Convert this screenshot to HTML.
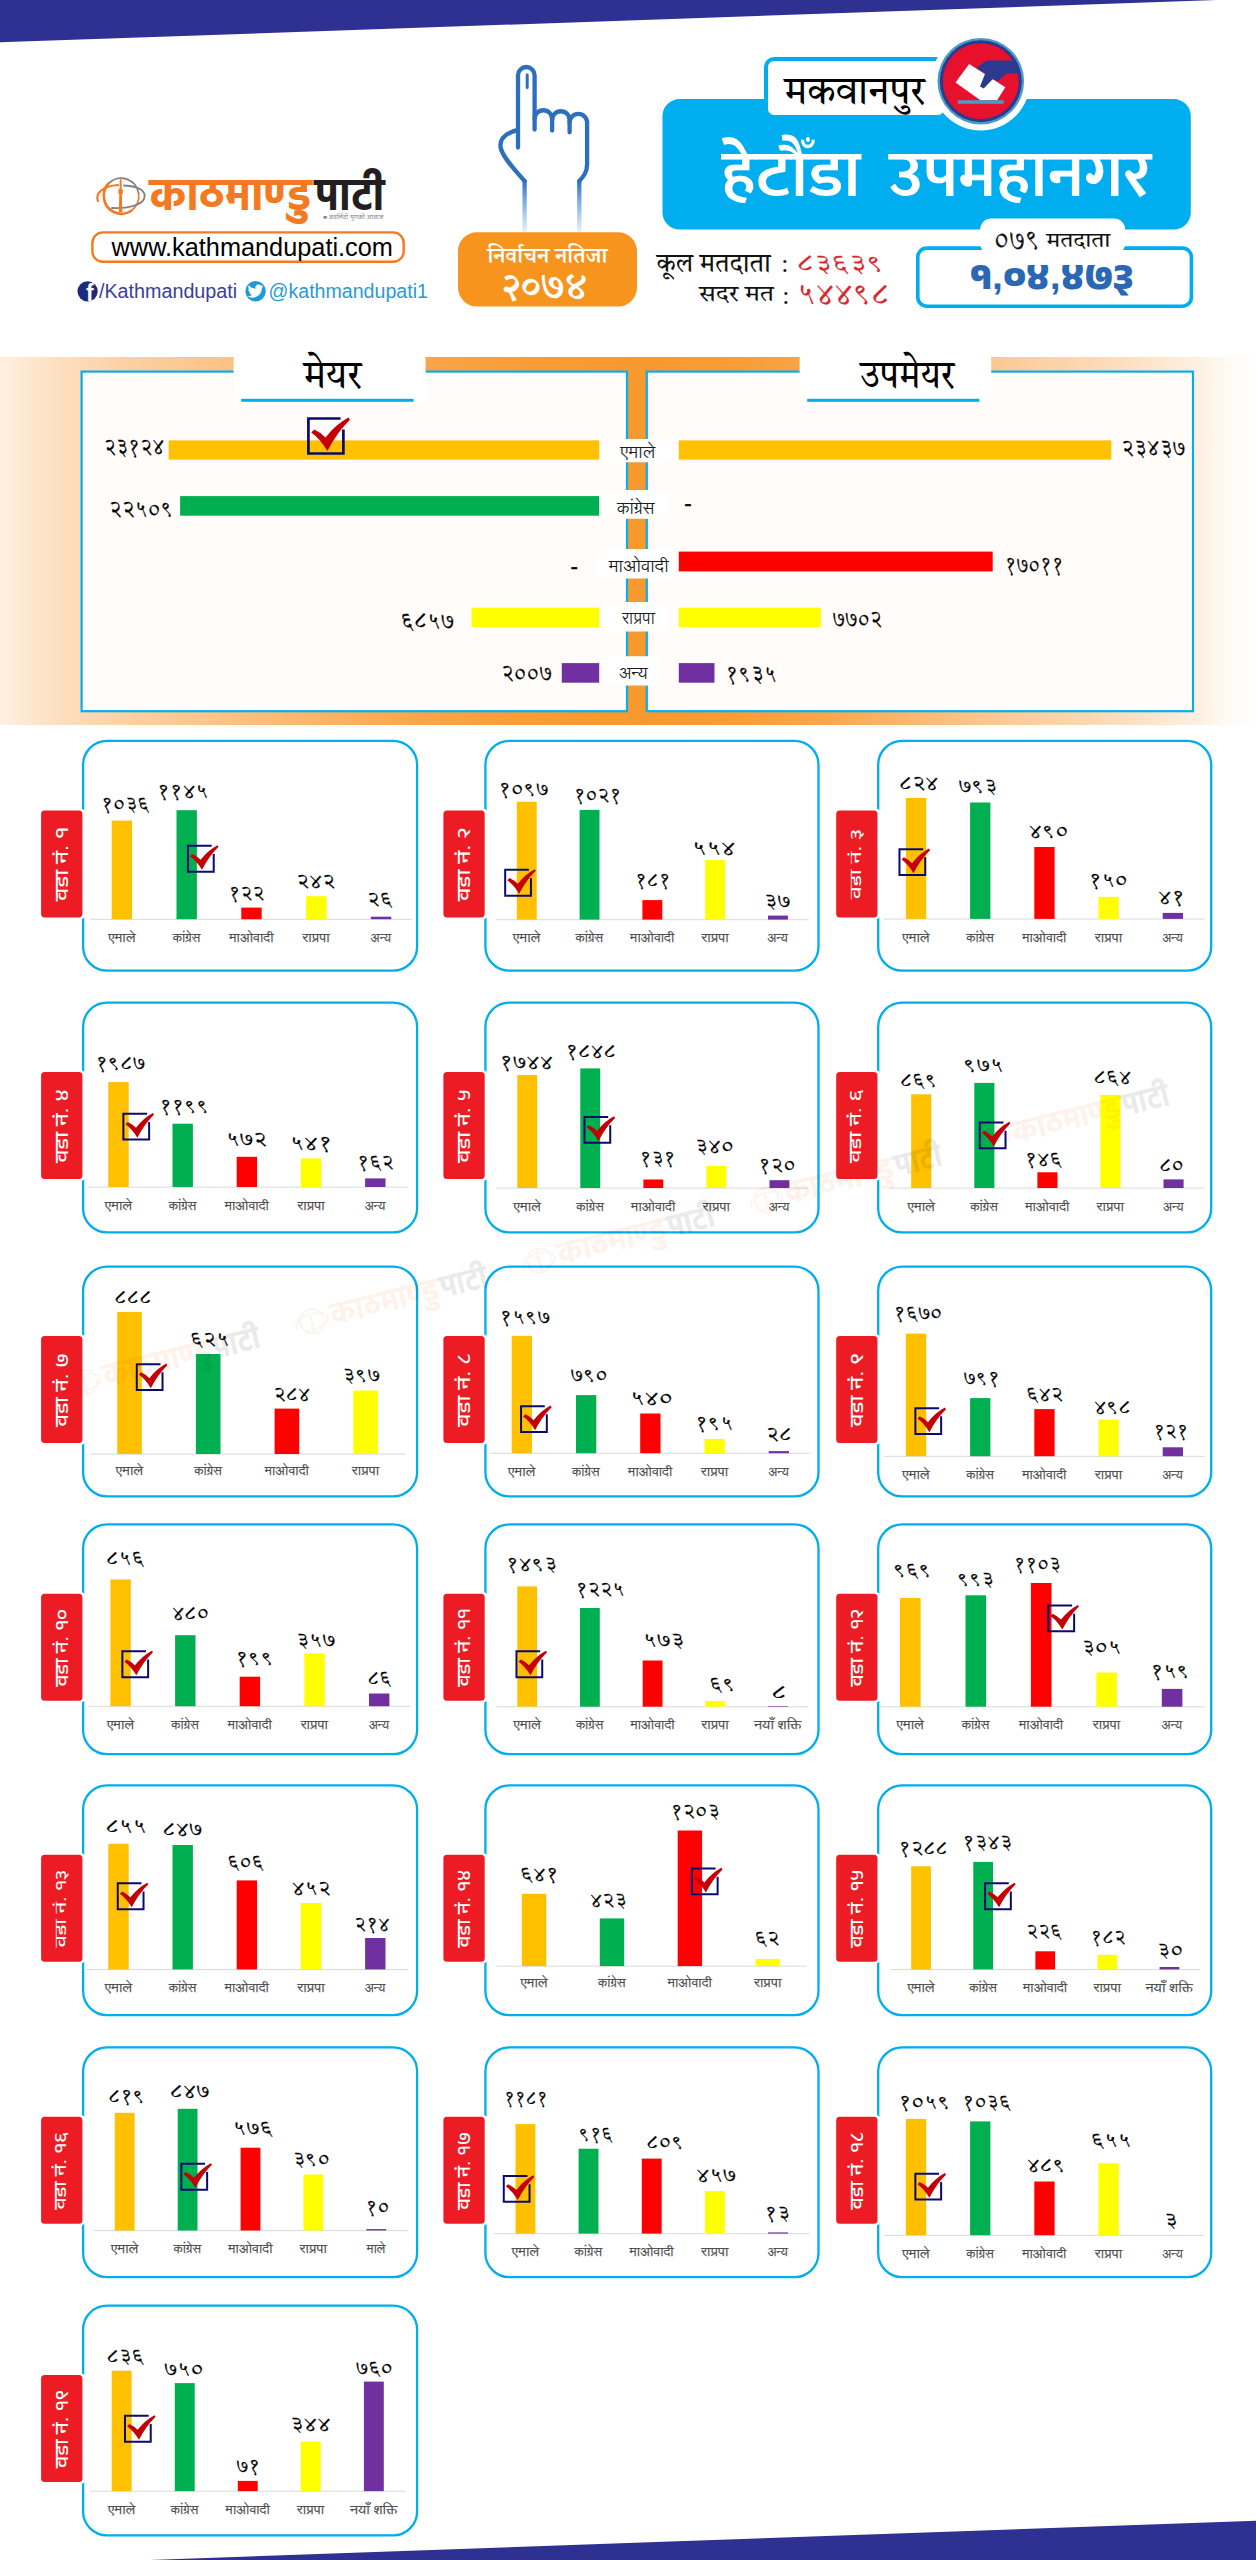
<!DOCTYPE html>
<html lang="ne">
<head>
<meta charset="utf-8">
<title>हेटौंडा उपमहानगर - निर्वाचन नतिजा २०७४</title>
<style>
html,body{margin:0;padding:0;background:#fff}
body{width:1256px;height:2560px;position:relative;overflow:hidden;font-family:"Liberation Sans","Noto Sans Devanagari",sans-serif;color:#000}
svg{position:absolute;display:block;overflow:visible}
.band{position:absolute;left:0;width:1256px;background:#2e3192}
.band.top{top:0;height:43px;clip-path:polygon(0 0,1217px 0,0 42.3px)}
.band.bot{top:2520px;height:40px;clip-path:polygon(150px 40px,1256px 0.7px,1256px 40px)}
.sans{font-family:"Liberation Sans","Noto Sans Devanagari",sans-serif;font-weight:400}
.serif{font-family:"Liberation Serif","Tiro Devanagari Hindi","Noto Serif Devanagari",serif;font-weight:400}
.bold{font-family:"Liberation Serif","Noto Serif Devanagari","Tiro Devanagari Hindi",serif;font-weight:600}
.num{font-family:"Liberation Sans","Annapurna SIL","Martel","Noto Sans Devanagari",sans-serif;font-weight:400}
.cat{font-family:"Liberation Serif","Lohit Devanagari","Noto Serif Devanagari",serif;font-weight:400}
.tabt{font-family:"Liberation Sans","Anek Devanagari","Mukta","Noto Sans Devanagari",sans-serif;font-weight:470}
.disp{font-family:"Liberation Sans","Mukta","Baloo 2","Noto Sans Devanagari",sans-serif;font-weight:600}
.big{font-family:"Liberation Sans","Anek Devanagari","Baloo 2","Noto Sans Devanagari",sans-serif;font-weight:800}
.logo{font-family:"Liberation Sans","Hind","Poppins","Noto Sans Devanagari",sans-serif;font-weight:700}
.tiny{font-family:"Liberation Sans","Mukta","Noto Sans Devanagari",sans-serif;font-weight:400}
.num{stroke-width:.3px}
</style>
</head>
<body>
<svg width="0" height="0" style="left:0;top:0" aria-hidden="true"><defs>
<symbol id="chk" viewBox="0 0 100 100" overflow="visible">
<path d="M89 3.5H3.5V96.5H96.5V33" fill="none" stroke="#0a0a6e" stroke-width="7.2"/>
<path d="M11 41L19 33Q38 42 49 54Q75 20 110 1L114 7Q80 40 54 90Q35 58 11 41Z" fill="#c40006"/>
</symbol>
<g id="kp"><g fill="none" stroke-linecap="round"><path d="M108.5 183.5A17.6 17.6 0 0 1 138.6 193.5" stroke="#808285" stroke-width="1.8"/><path d="M138.6 193.5A17.6 17.6 0 0 1 131 211" stroke="#f47920" stroke-width="1.6"/><path d="M131 211A17.6 17.6 0 0 1 104 198A17.6 17.6 0 0 1 108.5 183.5" stroke="#f47920" stroke-width="2.6"/><path d="M98 201C95 194 102 186 118 185" stroke="#f47920" stroke-width="2.2"/><path d="M124 185.5C140 186 147 192 144 199C141 205 128 209 112 208" stroke="#808285" stroke-width="1.8"/></g><path d="M120.6 176L121.6 181.5V188.5L122.8 190V193.5L121.9 194.5L122.4 212.5H118.8L119.3 194.5L118.4 193.5V190L119.6 188.5V181.5Z" fill="#f47920"/><text x="149.8" y="209.7" class="logo" style="font-size:44.7px;fill:#f47920" textLength="161.9" lengthAdjust="spacingAndGlyphs">काठमाण्डु</text><text x="314.8" y="209.9" class="logo" style="font-size:44.7px;fill:#231f20" textLength="69.6" lengthAdjust="spacingAndGlyphs">पाटी</text></g>
</defs></svg>
<div class="band top"></div>
<header>
<div class="brand"><svg style="left:70px;top:160px" width="370" height="150" viewBox="70 160 370 150"><use href="#kp"/><text x="322.9" y="219.2" class="tiny" style="font-size:5.4px;fill:#8a8c8e" textLength="60.5" lengthAdjust="spacingAndGlyphs">■ बदलिँदो युगको आवाज</text><rect x="92.4" y="232.4" width="311.3" height="29.4" rx="10.5" fill="#fff" stroke="#f47920" stroke-width="2.4"/><text x="111.6" y="255.9" class="sans" lang="en" style="font-size:25.2px;fill:#000" textLength="281.3" lengthAdjust="spacingAndGlyphs">www.kathmandupati.com</text><circle cx="87.6" cy="291.3" r="10.1" fill="#1b2a7b"/><text x="86.1" y="301.4" class="sans" lang="en" style="font-size:23px;fill:#fff;font-weight:700">f</text><text x="98.9" y="298.1" class="sans" lang="en" style="font-size:20px;fill:#3b3e99" textLength="138.3" lengthAdjust="spacingAndGlyphs">/Kathmandupati</text><circle cx="255.6" cy="291.3" r="10.2" fill="#1d9bd8"/><path d="M261.6 287.3c-.5.2-1 .4-1.5.4.5-.3.9-.8 1.1-1.4-.5.3-1.1.5-1.6.6a2.6 2.6 0 0 0-4.500 2.400c-2.200-.100-4.100-1.100-5.400-2.700-.700 1.200-.300 2.700.800 3.500-.4 0-.8-.1-1.200-.3 0 1.300.900 2.400 2.100 2.600-.4.100-.8.100-1.200 0 .300 1.100 1.300 1.800 2.400 1.800a5.300 5.300 0 0 1-3.900 1.100 7.400 7.400 0 0 0 4 1.200c4.900 0 7.700-4.200 7.500-7.900.500-.300.900-.800 1.300-1.300z" fill="#fff" transform="translate(255.6 291.3) scale(1.25) translate(-255.2 -291.4)"/><text x="268.6" y="298.1" class="sans" lang="en" style="font-size:20px;fill:#2a9ad6" textLength="159.3" lengthAdjust="spacingAndGlyphs">@kathmandupati1</text></svg></div>
<div class="badge"><svg style="left:450px;top:55px" width="200" height="260" viewBox="450 55 200 260"><defs><linearGradient id="wr" gradientUnits="userSpaceOnUse" x1="0" y1="180" x2="0" y2="232"><stop offset="0" stop-color="#2d6ebd"/><stop offset="0.1" stop-color="#3f7cc6"/><stop offset="0.4" stop-color="#7eade1"/><stop offset="1" stop-color="#e9f2fb"/></linearGradient></defs><g fill="none" stroke="#2d6ebd" stroke-width="4.3" stroke-linecap="round" stroke-linejoin="round"><path d="M518 147.5V75.3A8.3 8.3 0 0 1 534.6 75.3V129.5"/><path d="M534.6 119A8.75 8.75 0 0 1 552.1 119V130.6"/><path d="M552.1 120A8.75 8.75 0 0 1 569.6 120V132.3"/><path d="M569.6 122.6A8.75 8.75 0 0 1 587.1 122.6V164C587.1 172 584 176 579.3 181"/><path d="M518 129.8C507 132.5 500.4 137.5 500.4 145.5C500.4 153 509 164 524.6 181"/><path d="M527.2 74.8V87.6" stroke-width="3"/></g><path d="M524.6 180V232M579.3 180V232" fill="none" stroke="url(#wr)" stroke-width="4.3"/><rect x="458" y="232.2" width="179" height="74.4" rx="19" fill="#f7941d"/><text x="487.5" y="263.3" class="bold" style="font-size:21.5px;fill:#fff" textLength="119.8" lengthAdjust="spacingAndGlyphs">निर्वाचन नतिजा</text><text x="502.1" y="299" class="bold" lang="hi" style="font-size:37.6px;fill:#fff" textLength="85.3" lengthAdjust="spacingAndGlyphs">२०७४</text></svg></div>
<div class="title"><svg style="left:655px;top:30px" width="545" height="290" viewBox="655 30 545 290"><rect x="662.5" y="99.1" width="528.3" height="130.4" rx="17" fill="#00aeef"/><rect x="766" y="59" width="180" height="58" rx="8" fill="#fff" stroke="#00aeef" stroke-width="4"/><text x="784.3" y="103.9" class="serif" style="font-size:39.8px;fill:#000" textLength="140.7" lengthAdjust="spacingAndGlyphs">मकवानपुर</text><circle cx="980.8" cy="81.2" r="49.3" fill="#fff"/><circle cx="980.8" cy="81.2" r="43.3" fill="#4a9cc4"/><circle cx="980.8" cy="81.2" r="41" fill="#2b3990"/><circle cx="980.8" cy="81.2" r="38" fill="#e8112d"/><path d="M969.2 63.9L1005.3 87.3L997.2 100.2H980.4L955.5 82.5Z" fill="#fff"/><path d="M986.9 60.4H1014.5A38.5 38.5 0 0 1 1018.6 73.5H1006.5L998.3 81L992.6 79.2L983.7 88.6L980 86.4L985.2 73.6L976.4 67.7Z" fill="#2b3990"/><rect x="957.7" y="100.2" width="45.9" height="3.6" fill="#4a9cc4"/><text x="721.7" y="195.8" class="disp" style="font-size:65.5px;fill:#fff" textLength="139.2" lengthAdjust="spacingAndGlyphs">हेटौँडा</text><text x="889.1" y="195.9" class="disp" style="font-size:65.5px;fill:#fff" textLength="262.5" lengthAdjust="spacingAndGlyphs">उपमहानगर</text><text x="656.4" y="271.9" class="serif" style="font-size:26.6px;fill:#111" textLength="114.5" lengthAdjust="spacingAndGlyphs">कूल मतदाता</text><text x="781.2" y="272.1" class="serif" style="font-size:26px;fill:#111">:</text><text x="796.8" y="271.8" class="num" lang="hi" style="font-size:24.8px;fill:#d8262f;stroke:#d8262f" textLength="86.9" lengthAdjust="spacingAndGlyphs">८३६३९</text><text x="699.1" y="301.4" class="serif" style="font-size:22.8px;fill:#111" textLength="74.8" lengthAdjust="spacingAndGlyphs">सदर मत</text><text x="782.2" y="304" class="serif" style="font-size:26px;fill:#111">:</text><text x="797.1" y="305.4" class="num" lang="hi" style="font-size:30.1px;fill:#d8262f;stroke:#d8262f" textLength="92.8" lengthAdjust="spacingAndGlyphs">५४४९८</text><rect x="917.8" y="248.1" width="273.6" height="58.1" rx="9" fill="#fff" stroke="#00aeef" stroke-width="3.6"/><rect x="980.2" y="218.6" width="144.9" height="36" rx="11" fill="#fff"/><text x="993.7" y="250.2" class="num" lang="hi" style="font-size:28.8px;fill:#111;stroke:#111" textLength="46.6" lengthAdjust="spacingAndGlyphs">०७९</text><text x="1046.3" y="246.6" class="serif" style="font-size:21.1px;fill:#111" textLength="64.1" lengthAdjust="spacingAndGlyphs">मतदाता</text><text x="969.7" y="289.1" class="big" style="font-size:37.5px;fill:#2a68b5" textLength="163.8" lengthAdjust="spacingAndGlyphs">१,०४,४७३</text></svg></div>
</header>
<section class="mayor"><div class="glow" style="position:absolute;left:0;top:357px;width:1256px;height:368px;background:linear-gradient(90deg,#fef1e2 0,#fde5cb 3%,#fcdab6 6.4%,#fbcf9f 11%,#fbc68d 16%,#fab76e 24%,#f9a84e 32%,#f99e3a 40%,#f89a30 47%,#f8992e 52%,#f89c35 58%,#f9a74d 66%,#fabb78 74%,#fccfa0 82%,#fcdab6 87.6%,#fde5cb 91.6%,#feefdf 95%,#fffaf5 97.8%,#fff 100%)"></div><svg style="left:0px;top:345px" width="1256" height="390" viewBox="0 345 1256 390"><rect x="81.6" y="371.6" width="545.4" height="339.6" fill="#fffcfa" stroke="#08adee" stroke-width="2.2"/><rect x="646.8" y="371.6" width="546.2" height="339.6" fill="#fffcfa" stroke="#08adee" stroke-width="2.2"/><rect x="233.6" y="355" width="192" height="51" rx="4" fill="#fff"/><rect x="241.2" y="398.8" width="172.4" height="3" fill="#00aeef"/><text x="303.4" y="387.6" class="serif" style="font-size:39.9px;fill:#000" textLength="58.2" lengthAdjust="spacingAndGlyphs">मेयर</text><rect x="799.6" y="355" width="191.6" height="51" rx="4" fill="#fff"/><rect x="807.2" y="398.8" width="172.2" height="3" fill="#00aeef"/><text x="859.9" y="387.6" class="serif" style="font-size:39.9px;fill:#000" textLength="94.6" lengthAdjust="spacingAndGlyphs">उपमेयर</text><rect x="168.7" y="440.4" width="430.5" height="19.2" fill="#ffc000"/><text x="103.9" y="454.5" class="num" lang="hi" style="font-size:22.5px;stroke:#000" textLength="60.4" lengthAdjust="spacingAndGlyphs">२३१२४</text><rect x="678.8" y="440.4" width="432.5" height="19.2" fill="#ffc000"/><text x="1121.2" y="456.4" class="num" lang="hi" style="font-size:22.5px;stroke:#000" textLength="64.1" lengthAdjust="spacingAndGlyphs">२३४३७</text><rect x="604" y="438.9" width="68.1" height="23.4" rx="1.5" fill="#fff"/><text x="620.2" y="458.3" class="cat" style="font-size:17px;fill:#1a1a1a" textLength="35.1" lengthAdjust="spacingAndGlyphs">एमाले</text><rect x="180.1" y="496.1" width="419.1" height="19.6" fill="#00b050"/><text x="109.1" y="517.4" class="num" lang="hi" style="font-size:22.5px;stroke:#000" textLength="64.3" lengthAdjust="spacingAndGlyphs">२२५०९</text><text x="684.3" y="511.1" class="num" style="font-size:22.5px;stroke:#000">-</text><rect x="602.7" y="490" width="66.9" height="28.7" rx="1.5" fill="#fff"/><text x="617" y="514.2" class="cat" style="font-size:17px;fill:#1a1a1a" textLength="37.6" lengthAdjust="spacingAndGlyphs">कांग्रेस</text><text x="570.6" y="573.8" class="num" style="font-size:22.5px;stroke:#000">-</text><rect x="678.8" y="551.6" width="313.9" height="19.8" fill="#ff0000"/><text x="1004.7" y="573" class="num" lang="hi" style="font-size:22.5px;stroke:#000" textLength="58.9" lengthAdjust="spacingAndGlyphs">१७०११</text><rect x="598.2" y="549" width="76.4" height="29.6" rx="1.5" fill="#fff"/><text x="608.7" y="572.4" class="cat" style="font-size:17px;fill:#1a1a1a" textLength="60" lengthAdjust="spacingAndGlyphs">माओवादी</text><rect x="471.5" y="607.6" width="127.7" height="19.4" fill="#ffff00"/><text x="400.6" y="628.9" class="num" lang="hi" style="font-size:22.5px;stroke:#000" textLength="53.5" lengthAdjust="spacingAndGlyphs">६८५७</text><rect x="678.8" y="607.6" width="142.1" height="19.4" fill="#ffff00"/><text x="832.6" y="627.3" class="num" lang="hi" style="font-size:22.5px;stroke:#000" textLength="49.7" lengthAdjust="spacingAndGlyphs">७७०२</text><rect x="605.2" y="602" width="62.4" height="29.5" rx="1.5" fill="#fff"/><text x="622.3" y="624.4" class="cat" style="font-size:17px;fill:#1a1a1a" textLength="32.5" lengthAdjust="spacingAndGlyphs">राप्रपा</text><rect x="561.8" y="663.1" width="37.4" height="19.6" fill="#7030a0"/><text x="501.2" y="681.2" class="num" lang="hi" style="font-size:22.5px;stroke:#000" textLength="50.7" lengthAdjust="spacingAndGlyphs">२००७</text><rect x="678.8" y="663.1" width="35.7" height="19.6" fill="#7030a0"/><text x="725.5" y="681.9" class="num" lang="hi" style="font-size:22.5px;stroke:#000" textLength="51.2" lengthAdjust="spacingAndGlyphs">१९३५</text><rect x="608.2" y="656.3" width="52.4" height="29.3" rx="1.5" fill="#fff"/><text x="618.9" y="678.7" class="cat" style="font-size:17px;fill:#1a1a1a" textLength="28.9" lengthAdjust="spacingAndGlyphs">अन्य</text><use href="#chk" x="307.1" y="417.2" width="37.6" height="37.6"/></svg></section>
<main class="wards">
<section class="card" id="ward1"><svg style="left:39px;top:738px" width="382" height="236" viewBox="39 738 382 236"><rect x="83.1" y="740.9" width="334" height="229.8" rx="24" fill="#fff" stroke="#00aeef" stroke-width="2.3"/><rect x="39.9" y="808.8" width="45.5" height="110.2" rx="4.5" fill="#fff"/><rect x="41.1" y="810.4" width="41.3" height="107" rx="3.6" fill="#ed1c24"/><g transform="translate(67.7 865.1) rotate(-90)"><text x="-35.9" y="-0" class="tabt" style="font-size:18.7px;fill:#fff" textLength="74" lengthAdjust="spacingAndGlyphs">वडा नं. १</text></g><rect x="89.7" y="918.8" width="322.9" height="1" fill="#d9d9d9"/><rect x="111.7" y="820.6" width="20.4" height="98.6" fill="#ffc000"/><text x="101" y="810.9" class="num" lang="hi" style="font-size:20.7px;stroke:#000" textLength="48.5" lengthAdjust="spacingAndGlyphs">१०३६</text><text x="108.2" y="941.8" class="cat" style="font-size:12.6px;fill:#4a4a4a;stroke:#4a4a4a;stroke-width:.25px" textLength="27.4" lengthAdjust="spacingAndGlyphs">एमाले</text><rect x="176.5" y="810.2" width="20.4" height="109" fill="#00b050"/><text x="157" y="798.3" class="num" lang="hi" style="font-size:20.7px;stroke:#000" textLength="51.3" lengthAdjust="spacingAndGlyphs">११४५</text><text x="172.7" y="941.8" class="cat" style="font-size:12.6px;fill:#4a4a4a;stroke:#4a4a4a;stroke-width:.25px" textLength="27.7" lengthAdjust="spacingAndGlyphs">कांग्रेस</text><rect x="241.3" y="907.6" width="20.4" height="11.6" fill="#ff0000"/><text x="228.5" y="899.5" class="num" lang="hi" style="font-size:20.7px;stroke:#000" textLength="35.9" lengthAdjust="spacingAndGlyphs">१२२</text><text x="229.3" y="941.8" class="cat" style="font-size:12.6px;fill:#4a4a4a;stroke:#4a4a4a;stroke-width:.25px" textLength="44.2" lengthAdjust="spacingAndGlyphs">माओवादी</text><rect x="306.1" y="896.2" width="20.4" height="23" fill="#ffff00"/><text x="296.3" y="887.7" class="num" lang="hi" style="font-size:20.7px;stroke:#000" textLength="39.1" lengthAdjust="spacingAndGlyphs">२४२</text><text x="302.6" y="941.8" class="cat" style="font-size:12.6px;fill:#4a4a4a;stroke:#4a4a4a;stroke-width:.25px" textLength="27.2" lengthAdjust="spacingAndGlyphs">राप्रपा</text><rect x="370.9" y="916.7" width="20.4" height="2.5" fill="#7030a0"/><text x="366.9" y="906.4" class="num" lang="hi" style="font-size:20.7px;stroke:#000" textLength="25.6" lengthAdjust="spacingAndGlyphs">२६</text><text x="370.8" y="941.8" class="cat" style="font-size:12.6px;fill:#4a4a4a;stroke:#4a4a4a;stroke-width:.25px" textLength="20.3" lengthAdjust="spacingAndGlyphs">अन्य</text><use href="#chk" x="187" y="844.9" width="27.7" height="27.7"/></svg></section>
<section class="card" id="ward2"><svg style="left:441px;top:738px" width="381" height="236" viewBox="441 738 381 236"><rect x="485.4" y="740.9" width="333.1" height="229.8" rx="24" fill="#fff" stroke="#00aeef" stroke-width="2.3"/><rect x="442.2" y="808.8" width="45.5" height="110.2" rx="4.5" fill="#fff"/><rect x="443.4" y="810.4" width="41.3" height="107" rx="3.6" fill="#ed1c24"/><g transform="translate(470 865.1) rotate(-90)"><text x="-35.9" y="-0" class="tabt" style="font-size:18.7px;fill:#fff" textLength="73.4" lengthAdjust="spacingAndGlyphs">वडा नं. २</text></g><rect x="496.3" y="919.2" width="312.4" height="1" fill="#d9d9d9"/><rect x="516.8" y="801.7" width="19.9" height="117.9" fill="#ffc000"/><text x="498.4" y="796.1" class="num" lang="hi" style="font-size:20.7px;stroke:#000" textLength="50" lengthAdjust="spacingAndGlyphs">१०९७</text><text x="513" y="942.2" class="cat" style="font-size:12.6px;fill:#4a4a4a;stroke:#4a4a4a;stroke-width:.25px" textLength="27.4" lengthAdjust="spacingAndGlyphs">एमाले</text><rect x="579.6" y="809.9" width="19.9" height="109.7" fill="#00b050"/><text x="573.7" y="801.7" class="num" lang="hi" style="font-size:20.7px;stroke:#000" textLength="47.7" lengthAdjust="spacingAndGlyphs">१०२१</text><text x="575.5" y="942.2" class="cat" style="font-size:12.6px;fill:#4a4a4a;stroke:#4a4a4a;stroke-width:.25px" textLength="27.7" lengthAdjust="spacingAndGlyphs">कांग्रेस</text><rect x="642.4" y="900.1" width="19.9" height="19.5" fill="#ff0000"/><text x="634.9" y="886.8" class="num" lang="hi" style="font-size:20.7px;stroke:#000" textLength="35.7" lengthAdjust="spacingAndGlyphs">१८१</text><text x="630.1" y="942.2" class="cat" style="font-size:12.6px;fill:#4a4a4a;stroke:#4a4a4a;stroke-width:.25px" textLength="44.2" lengthAdjust="spacingAndGlyphs">माओवादी</text><rect x="705.2" y="860.1" width="19.9" height="59.5" fill="#ffff00"/><text x="691.9" y="854.8" class="num" lang="hi" style="font-size:20.7px;stroke:#000" textLength="43.6" lengthAdjust="spacingAndGlyphs">५५४</text><text x="701.5" y="942.2" class="cat" style="font-size:12.6px;fill:#4a4a4a;stroke:#4a4a4a;stroke-width:.25px" textLength="27.2" lengthAdjust="spacingAndGlyphs">राप्रपा</text><rect x="768" y="915.6" width="19.9" height="4" fill="#7030a0"/><text x="763.9" y="908.3" class="num" lang="hi" style="font-size:20.7px;stroke:#000" textLength="26.5" lengthAdjust="spacingAndGlyphs">३७</text><text x="767.6" y="942.2" class="cat" style="font-size:12.6px;fill:#4a4a4a;stroke:#4a4a4a;stroke-width:.25px" textLength="20.3" lengthAdjust="spacingAndGlyphs">अन्य</text><use href="#chk" x="504.2" y="868.9" width="27.7" height="27.7"/></svg></section>
<section class="card" id="ward3"><svg style="left:834px;top:738px" width="381" height="236" viewBox="834 738 381 236"><rect x="878.2" y="740.9" width="333" height="229.8" rx="24" fill="#fff" stroke="#00aeef" stroke-width="2.3"/><rect x="835" y="808.8" width="45.5" height="110.2" rx="4.5" fill="#fff"/><rect x="836.2" y="810.4" width="41.3" height="107" rx="3.6" fill="#ed1c24"/><g transform="translate(862.8 865.1) rotate(-90)"><text x="-34.2" y="-2" class="tabt" style="font-size:16.2px;fill:#fff" textLength="70.1" lengthAdjust="spacingAndGlyphs">वडा नं. ३</text></g><rect x="884.1" y="918.5" width="320.6" height="1" fill="#d9d9d9"/><rect x="905.9" y="798" width="20.3" height="120.9" fill="#ffc000"/><text x="899" y="790.2" class="num" lang="hi" style="font-size:20.7px;stroke:#000" textLength="39.5" lengthAdjust="spacingAndGlyphs">८२४</text><text x="902.3" y="941.5" class="cat" style="font-size:12.6px;fill:#4a4a4a;stroke:#4a4a4a;stroke-width:.25px" textLength="27.4" lengthAdjust="spacingAndGlyphs">एमाले</text><rect x="970.1" y="802.5" width="20.3" height="116.4" fill="#00b050"/><text x="958.4" y="793.2" class="num" lang="hi" style="font-size:20.7px;stroke:#000" textLength="38.7" lengthAdjust="spacingAndGlyphs">७९३</text><text x="966.2" y="941.5" class="cat" style="font-size:12.6px;fill:#4a4a4a;stroke:#4a4a4a;stroke-width:.25px" textLength="27.7" lengthAdjust="spacingAndGlyphs">कांग्रेस</text><rect x="1034.3" y="847" width="20.3" height="71.9" fill="#ff0000"/><text x="1028.8" y="837.8" class="num" lang="hi" style="font-size:20.7px;stroke:#000" textLength="39.6" lengthAdjust="spacingAndGlyphs">४९०</text><text x="1022.2" y="941.5" class="cat" style="font-size:12.6px;fill:#4a4a4a;stroke:#4a4a4a;stroke-width:.25px" textLength="44.2" lengthAdjust="spacingAndGlyphs">माओवादी</text><rect x="1098.5" y="896.9" width="20.3" height="22" fill="#ffff00"/><text x="1088.7" y="887.3" class="num" lang="hi" style="font-size:20.7px;stroke:#000" textLength="39" lengthAdjust="spacingAndGlyphs">१५०</text><text x="1095" y="941.5" class="cat" style="font-size:12.6px;fill:#4a4a4a;stroke:#4a4a4a;stroke-width:.25px" textLength="27.2" lengthAdjust="spacingAndGlyphs">राप्रपा</text><rect x="1162.7" y="912.9" width="20.3" height="6" fill="#7030a0"/><text x="1158.1" y="904.4" class="num" lang="hi" style="font-size:20.7px;stroke:#000" textLength="26.8" lengthAdjust="spacingAndGlyphs">४१</text><text x="1162.5" y="941.5" class="cat" style="font-size:12.6px;fill:#4a4a4a;stroke:#4a4a4a;stroke-width:.25px" textLength="20.3" lengthAdjust="spacingAndGlyphs">अन्य</text><use href="#chk" x="898.5" y="848.2" width="27.7" height="27.7"/></svg></section>
<section class="card" id="ward4"><svg style="left:39px;top:1000px" width="382" height="235" viewBox="39 1000 382 235"><rect x="83.1" y="1002.6" width="334" height="229.8" rx="24" fill="#fff" stroke="#00aeef" stroke-width="2.3"/><rect x="39.9" y="1070.5" width="45.5" height="110.2" rx="4.5" fill="#fff"/><rect x="41.1" y="1072.1" width="41.3" height="107" rx="3.6" fill="#ed1c24"/><g transform="translate(67.7 1126.8) rotate(-90)"><text x="-35.9" y="-0" class="tabt" style="font-size:18.7px;fill:#fff" textLength="73.6" lengthAdjust="spacingAndGlyphs">वडा नं. ४</text></g><rect x="87" y="1186.6" width="320.7" height="1" fill="#d9d9d9"/><rect x="108.3" y="1082.1" width="20.4" height="104.9" fill="#ffc000"/><text x="95.4" y="1069.8" class="num" lang="hi" style="font-size:20.7px;stroke:#000" textLength="49.8" lengthAdjust="spacingAndGlyphs">१९८७</text><text x="104.8" y="1209.6" class="cat" style="font-size:12.6px;fill:#4a4a4a;stroke:#4a4a4a;stroke-width:.25px" textLength="27.4" lengthAdjust="spacingAndGlyphs">एमाले</text><rect x="172.5" y="1123.7" width="20.4" height="63.3" fill="#00b050"/><text x="159.6" y="1113.3" class="num" lang="hi" style="font-size:20.7px;stroke:#000" textLength="49.1" lengthAdjust="spacingAndGlyphs">११९९</text><text x="168.7" y="1209.6" class="cat" style="font-size:12.6px;fill:#4a4a4a;stroke:#4a4a4a;stroke-width:.25px" textLength="27.7" lengthAdjust="spacingAndGlyphs">कांग्रेस</text><rect x="236.7" y="1156.8" width="20.4" height="30.2" fill="#ff0000"/><text x="225.9" y="1146.4" class="num" lang="hi" style="font-size:20.7px;stroke:#000" textLength="41.2" lengthAdjust="spacingAndGlyphs">५७२</text><text x="224.7" y="1209.6" class="cat" style="font-size:12.6px;fill:#4a4a4a;stroke:#4a4a4a;stroke-width:.25px" textLength="44.2" lengthAdjust="spacingAndGlyphs">माओवादी</text><rect x="300.9" y="1158.4" width="20.4" height="28.6" fill="#ffff00"/><text x="290" y="1150.1" class="num" lang="hi" style="font-size:20.7px;stroke:#000" textLength="42.2" lengthAdjust="spacingAndGlyphs">५४१</text><text x="297.5" y="1209.6" class="cat" style="font-size:12.6px;fill:#4a4a4a;stroke:#4a4a4a;stroke-width:.25px" textLength="27.2" lengthAdjust="spacingAndGlyphs">राप्रपा</text><rect x="365.1" y="1178.4" width="20.4" height="8.6" fill="#7030a0"/><text x="357.1" y="1168.8" class="num" lang="hi" style="font-size:20.7px;stroke:#000" textLength="36.8" lengthAdjust="spacingAndGlyphs">१६२</text><text x="365" y="1209.6" class="cat" style="font-size:12.6px;fill:#4a4a4a;stroke:#4a4a4a;stroke-width:.25px" textLength="20.3" lengthAdjust="spacingAndGlyphs">अन्य</text><use href="#chk" x="122.4" y="1112.8" width="27.7" height="27.7"/></svg></section>
<section class="card" id="ward5"><svg style="left:441px;top:1000px" width="381" height="235" viewBox="441 1000 381 235"><rect x="485.4" y="1002.6" width="333.1" height="229.8" rx="24" fill="#fff" stroke="#00aeef" stroke-width="2.3"/><rect x="442.2" y="1070.5" width="45.5" height="110.2" rx="4.5" fill="#fff"/><rect x="443.4" y="1072.1" width="41.3" height="107" rx="3.6" fill="#ed1c24"/><g transform="translate(470 1126.8) rotate(-90)"><text x="-35.9" y="-0" class="tabt" style="font-size:18.7px;fill:#fff" textLength="73.6" lengthAdjust="spacingAndGlyphs">वडा नं. ५</text></g><rect x="496.3" y="1187.6" width="312.4" height="1" fill="#d9d9d9"/><rect x="517.3" y="1075.1" width="19.9" height="112.9" fill="#ffc000"/><text x="499.4" y="1068.6" class="num" lang="hi" style="font-size:20.7px;stroke:#000" textLength="53.7" lengthAdjust="spacingAndGlyphs">१७४४</text><text x="513.5" y="1210.6" class="cat" style="font-size:12.6px;fill:#4a4a4a;stroke:#4a4a4a;stroke-width:.25px" textLength="27.4" lengthAdjust="spacingAndGlyphs">एमाले</text><rect x="580.3" y="1068.4" width="19.9" height="119.6" fill="#00b050"/><text x="565.4" y="1058.1" class="num" lang="hi" style="font-size:20.7px;stroke:#000" textLength="50.8" lengthAdjust="spacingAndGlyphs">१८४८</text><text x="576.3" y="1210.6" class="cat" style="font-size:12.6px;fill:#4a4a4a;stroke:#4a4a4a;stroke-width:.25px" textLength="27.7" lengthAdjust="spacingAndGlyphs">कांग्रेस</text><rect x="643.4" y="1179.5" width="19.9" height="8.5" fill="#ff0000"/><text x="639.4" y="1165.4" class="num" lang="hi" style="font-size:20.7px;stroke:#000" textLength="36.3" lengthAdjust="spacingAndGlyphs">१३१</text><text x="631.1" y="1210.6" class="cat" style="font-size:12.6px;fill:#4a4a4a;stroke:#4a4a4a;stroke-width:.25px" textLength="44.2" lengthAdjust="spacingAndGlyphs">माओवादी</text><rect x="706.4" y="1166" width="19.9" height="22" fill="#ffff00"/><text x="695.1" y="1153.2" class="num" lang="hi" style="font-size:20.7px;stroke:#000" textLength="38.8" lengthAdjust="spacingAndGlyphs">३४०</text><text x="702.8" y="1210.6" class="cat" style="font-size:12.6px;fill:#4a4a4a;stroke:#4a4a4a;stroke-width:.25px" textLength="27.2" lengthAdjust="spacingAndGlyphs">राप्रपा</text><rect x="769.5" y="1180.2" width="19.9" height="7.8" fill="#7030a0"/><text x="758.3" y="1172.3" class="num" lang="hi" style="font-size:20.7px;stroke:#000" textLength="37.3" lengthAdjust="spacingAndGlyphs">१२०</text><text x="769.1" y="1210.6" class="cat" style="font-size:12.6px;fill:#4a4a4a;stroke:#4a4a4a;stroke-width:.25px" textLength="20.3" lengthAdjust="spacingAndGlyphs">अन्य</text><use href="#chk" x="583.5" y="1116" width="27.7" height="27.7"/></svg></section>
<section class="card" id="ward6"><svg style="left:834px;top:1000px" width="381" height="235" viewBox="834 1000 381 235"><rect x="878.2" y="1002.6" width="333" height="229.8" rx="24" fill="#fff" stroke="#00aeef" stroke-width="2.3"/><rect x="835" y="1070.5" width="45.5" height="110.2" rx="4.5" fill="#fff"/><rect x="836.2" y="1072.1" width="41.3" height="107" rx="3.6" fill="#ed1c24"/><g transform="translate(862.8 1126.8) rotate(-90)"><text x="-35.9" y="-1.7" class="tabt" style="font-size:16.8px;fill:#fff" textLength="73" lengthAdjust="spacingAndGlyphs">वडा नं. ६</text></g><rect x="889.7" y="1187.6" width="315" height="1" fill="#d9d9d9"/><rect x="911.2" y="1094.3" width="20.1" height="93.7" fill="#ffc000"/><text x="899.9" y="1086.7" class="num" lang="hi" style="font-size:20.7px;stroke:#000" textLength="37.3" lengthAdjust="spacingAndGlyphs">८६९</text><text x="907.5" y="1210.6" class="cat" style="font-size:12.6px;fill:#4a4a4a;stroke:#4a4a4a;stroke-width:.25px" textLength="27.4" lengthAdjust="spacingAndGlyphs">एमाले</text><rect x="974.3" y="1082.9" width="20.1" height="105.1" fill="#00b050"/><text x="963.1" y="1072.1" class="num" lang="hi" style="font-size:20.7px;stroke:#000" textLength="40.3" lengthAdjust="spacingAndGlyphs">९७५</text><text x="970.3" y="1210.6" class="cat" style="font-size:12.6px;fill:#4a4a4a;stroke:#4a4a4a;stroke-width:.25px" textLength="27.7" lengthAdjust="spacingAndGlyphs">कांग्रेस</text><rect x="1037.4" y="1172.3" width="20.1" height="15.7" fill="#ff0000"/><text x="1024.7" y="1165.8" class="num" lang="hi" style="font-size:20.7px;stroke:#000" textLength="37.2" lengthAdjust="spacingAndGlyphs">१४६</text><text x="1025.2" y="1210.6" class="cat" style="font-size:12.6px;fill:#4a4a4a;stroke:#4a4a4a;stroke-width:.25px" textLength="44.2" lengthAdjust="spacingAndGlyphs">माओवादी</text><rect x="1100.4" y="1094.9" width="20.1" height="93.1" fill="#ffff00"/><text x="1093.5" y="1084.2" class="num" lang="hi" style="font-size:20.7px;stroke:#000" textLength="37.8" lengthAdjust="spacingAndGlyphs">८६४</text><text x="1096.8" y="1210.6" class="cat" style="font-size:12.6px;fill:#4a4a4a;stroke:#4a4a4a;stroke-width:.25px" textLength="27.2" lengthAdjust="spacingAndGlyphs">राप्रपा</text><rect x="1163.5" y="1179.4" width="20.1" height="8.6" fill="#7030a0"/><text x="1159.2" y="1172.2" class="num" lang="hi" style="font-size:20.7px;stroke:#000" textLength="24.5" lengthAdjust="spacingAndGlyphs">८०</text><text x="1163.3" y="1210.6" class="cat" style="font-size:12.6px;fill:#4a4a4a;stroke:#4a4a4a;stroke-width:.25px" textLength="20.3" lengthAdjust="spacingAndGlyphs">अन्य</text><use href="#chk" x="978.8" y="1121.5" width="27.7" height="27.7"/></svg></section>
<section class="card" id="ward7"><svg style="left:39px;top:1264px" width="382" height="235" viewBox="39 1264 382 235"><rect x="83.1" y="1266.6" width="334" height="229.8" rx="24" fill="#fff" stroke="#00aeef" stroke-width="2.3"/><rect x="39.9" y="1334.5" width="45.5" height="110.2" rx="4.5" fill="#fff"/><rect x="41.1" y="1336.1" width="41.3" height="107" rx="3.6" fill="#ed1c24"/><g transform="translate(67.7 1390.8) rotate(-90)"><text x="-35.9" y="-0" class="tabt" style="font-size:18.7px;fill:#fff" textLength="73.6" lengthAdjust="spacingAndGlyphs">वडा नं. ७</text></g><rect x="90.4" y="1453.6" width="315" height="1" fill="#d9d9d9"/><rect x="117.2" y="1311.9" width="24.6" height="142.1" fill="#ffc000"/><text x="114.3" y="1304.3" class="num" lang="hi" style="font-size:20.7px;stroke:#000" textLength="37.6" lengthAdjust="spacingAndGlyphs">८८८</text><text x="115.8" y="1475.3" class="cat" style="font-size:12.6px;fill:#4a4a4a;stroke:#4a4a4a;stroke-width:.25px" textLength="27.4" lengthAdjust="spacingAndGlyphs">एमाले</text><rect x="195.9" y="1354" width="24.6" height="100" fill="#00b050"/><text x="190.1" y="1345.7" class="num" lang="hi" style="font-size:20.7px;stroke:#000" textLength="39.1" lengthAdjust="spacingAndGlyphs">६२५</text><text x="194.2" y="1475.3" class="cat" style="font-size:12.6px;fill:#4a4a4a;stroke:#4a4a4a;stroke-width:.25px" textLength="27.7" lengthAdjust="spacingAndGlyphs">कांग्रेस</text><rect x="274.6" y="1408.6" width="24.6" height="45.4" fill="#ff0000"/><text x="273.5" y="1401" class="num" lang="hi" style="font-size:20.7px;stroke:#000" textLength="36.8" lengthAdjust="spacingAndGlyphs">२८४</text><text x="264.7" y="1475.3" class="cat" style="font-size:12.6px;fill:#4a4a4a;stroke:#4a4a4a;stroke-width:.25px" textLength="44.2" lengthAdjust="spacingAndGlyphs">माओवादी</text><rect x="353.3" y="1390.5" width="24.6" height="63.5" fill="#ffff00"/><text x="342.4" y="1381.8" class="num" lang="hi" style="font-size:20.7px;stroke:#000" textLength="37.7" lengthAdjust="spacingAndGlyphs">३९७</text><text x="352" y="1475.3" class="cat" style="font-size:12.6px;fill:#4a4a4a;stroke:#4a4a4a;stroke-width:.25px" textLength="27.2" lengthAdjust="spacingAndGlyphs">राप्रपा</text><use href="#chk" x="135.8" y="1363.2" width="27.7" height="27.7"/></svg></section>
<section class="card" id="ward8"><svg style="left:441px;top:1264px" width="381" height="235" viewBox="441 1264 381 235"><rect x="485.4" y="1266.6" width="333.1" height="229.8" rx="24" fill="#fff" stroke="#00aeef" stroke-width="2.3"/><rect x="442.2" y="1334.5" width="45.5" height="110.2" rx="4.5" fill="#fff"/><rect x="443.4" y="1336.1" width="41.3" height="107" rx="3.6" fill="#ed1c24"/><g transform="translate(470 1390.8) rotate(-90)"><text x="-35.9" y="-0" class="tabt" style="font-size:18.7px;fill:#fff" textLength="73" lengthAdjust="spacingAndGlyphs">वडा नं. ८</text></g><rect x="489.7" y="1452.8" width="320.6" height="1" fill="#d9d9d9"/><rect x="511.7" y="1335.8" width="20.3" height="117.4" fill="#ffc000"/><text x="499.6" y="1324" class="num" lang="hi" style="font-size:20.7px;stroke:#000" textLength="50.7" lengthAdjust="spacingAndGlyphs">१५९७</text><text x="508.1" y="1475.8" class="cat" style="font-size:12.6px;fill:#4a4a4a;stroke:#4a4a4a;stroke-width:.25px" textLength="27.4" lengthAdjust="spacingAndGlyphs">एमाले</text><rect x="576" y="1395.1" width="20.3" height="58.1" fill="#00b050"/><text x="570.5" y="1382" class="num" lang="hi" style="font-size:20.7px;stroke:#000" textLength="37.3" lengthAdjust="spacingAndGlyphs">७९०</text><text x="572.1" y="1475.8" class="cat" style="font-size:12.6px;fill:#4a4a4a;stroke:#4a4a4a;stroke-width:.25px" textLength="27.7" lengthAdjust="spacingAndGlyphs">कांग्रेस</text><rect x="640.2" y="1413.5" width="20.3" height="39.7" fill="#ff0000"/><text x="630.3" y="1404.8" class="num" lang="hi" style="font-size:20.7px;stroke:#000" textLength="42.7" lengthAdjust="spacingAndGlyphs">५४०</text><text x="628.1" y="1475.8" class="cat" style="font-size:12.6px;fill:#4a4a4a;stroke:#4a4a4a;stroke-width:.25px" textLength="44.2" lengthAdjust="spacingAndGlyphs">माओवादी</text><rect x="704.5" y="1438.9" width="20.3" height="14.3" fill="#ffff00"/><text x="695.3" y="1430.3" class="num" lang="hi" style="font-size:20.7px;stroke:#000" textLength="37.7" lengthAdjust="spacingAndGlyphs">१९५</text><text x="701" y="1475.8" class="cat" style="font-size:12.6px;fill:#4a4a4a;stroke:#4a4a4a;stroke-width:.25px" textLength="27.2" lengthAdjust="spacingAndGlyphs">राप्रपा</text><rect x="768.7" y="1451.1" width="20.3" height="2.1" fill="#7030a0"/><text x="766.1" y="1440.5" class="num" lang="hi" style="font-size:20.7px;stroke:#000" textLength="25.8" lengthAdjust="spacingAndGlyphs">२८</text><text x="768.5" y="1475.8" class="cat" style="font-size:12.6px;fill:#4a4a4a;stroke:#4a4a4a;stroke-width:.25px" textLength="20.3" lengthAdjust="spacingAndGlyphs">अन्य</text><use href="#chk" x="520.1" y="1405.2" width="27.7" height="27.7"/></svg></section>
<section class="card" id="ward9"><svg style="left:834px;top:1264px" width="381" height="235" viewBox="834 1264 381 235"><rect x="878.2" y="1266.6" width="333" height="229.8" rx="24" fill="#fff" stroke="#00aeef" stroke-width="2.3"/><rect x="835" y="1334.5" width="45.5" height="110.2" rx="4.5" fill="#fff"/><rect x="836.2" y="1336.1" width="41.3" height="107" rx="3.6" fill="#ed1c24"/><g transform="translate(862.8 1390.8) rotate(-90)"><text x="-35.9" y="-0" class="tabt" style="font-size:18.7px;fill:#fff" textLength="73.5" lengthAdjust="spacingAndGlyphs">वडा नं. ९</text></g><rect x="884.1" y="1455.8" width="320.6" height="1" fill="#d9d9d9"/><rect x="905.9" y="1333.6" width="20.3" height="122.6" fill="#ffc000"/><text x="893.5" y="1320.2" class="num" lang="hi" style="font-size:20.7px;stroke:#000" textLength="48.8" lengthAdjust="spacingAndGlyphs">१६७०</text><text x="902.3" y="1478.8" class="cat" style="font-size:12.6px;fill:#4a4a4a;stroke:#4a4a4a;stroke-width:.25px" textLength="27.4" lengthAdjust="spacingAndGlyphs">एमाले</text><rect x="970.1" y="1398.1" width="20.3" height="58.1" fill="#00b050"/><text x="963.5" y="1384.8" class="num" lang="hi" style="font-size:20.7px;stroke:#000" textLength="36.4" lengthAdjust="spacingAndGlyphs">७९१</text><text x="966.2" y="1478.8" class="cat" style="font-size:12.6px;fill:#4a4a4a;stroke:#4a4a4a;stroke-width:.25px" textLength="27.7" lengthAdjust="spacingAndGlyphs">कांग्रेस</text><rect x="1034.3" y="1409.1" width="20.3" height="47.1" fill="#ff0000"/><text x="1026" y="1401.4" class="num" lang="hi" style="font-size:20.7px;stroke:#000" textLength="37.3" lengthAdjust="spacingAndGlyphs">६४२</text><text x="1022.2" y="1478.8" class="cat" style="font-size:12.6px;fill:#4a4a4a;stroke:#4a4a4a;stroke-width:.25px" textLength="44.2" lengthAdjust="spacingAndGlyphs">माओवादी</text><rect x="1098.5" y="1419.6" width="20.3" height="36.6" fill="#ffff00"/><text x="1093.9" y="1413.5" class="num" lang="hi" style="font-size:20.7px;stroke:#000" textLength="37.1" lengthAdjust="spacingAndGlyphs">४९८</text><text x="1095" y="1478.8" class="cat" style="font-size:12.6px;fill:#4a4a4a;stroke:#4a4a4a;stroke-width:.25px" textLength="27.2" lengthAdjust="spacingAndGlyphs">राप्रपा</text><rect x="1162.7" y="1447.3" width="20.3" height="8.9" fill="#7030a0"/><text x="1153.5" y="1438.3" class="num" lang="hi" style="font-size:20.7px;stroke:#000" textLength="34.8" lengthAdjust="spacingAndGlyphs">१२१</text><text x="1162.5" y="1478.8" class="cat" style="font-size:12.6px;fill:#4a4a4a;stroke:#4a4a4a;stroke-width:.25px" textLength="20.3" lengthAdjust="spacingAndGlyphs">अन्य</text><use href="#chk" x="914.4" y="1407.2" width="27.7" height="27.7"/></svg></section>
<section class="card" id="ward10"><svg style="left:39px;top:1521px" width="382" height="236" viewBox="39 1521 382 236"><rect x="83.1" y="1524.3" width="334" height="229.8" rx="24" fill="#fff" stroke="#00aeef" stroke-width="2.3"/><rect x="39.9" y="1592.2" width="45.5" height="110.2" rx="4.5" fill="#fff"/><rect x="41.1" y="1593.8" width="41.3" height="107" rx="3.6" fill="#ed1c24"/><g transform="translate(67.7 1648.5) rotate(-90)"><text x="-38.1" y="-0" class="tabt" style="font-size:18.7px;fill:#fff" textLength="77.6" lengthAdjust="spacingAndGlyphs">वडा नं. १०</text></g><rect x="88.1" y="1705.8" width="322.2" height="1" fill="#d9d9d9"/><rect x="110.4" y="1579.5" width="20.4" height="126.7" fill="#ffc000"/><text x="106.1" y="1565.3" class="num" lang="hi" style="font-size:20.7px;stroke:#000" textLength="38" lengthAdjust="spacingAndGlyphs">८५६</text><text x="106.9" y="1728.8" class="cat" style="font-size:12.6px;fill:#4a4a4a;stroke:#4a4a4a;stroke-width:.25px" textLength="27.4" lengthAdjust="spacingAndGlyphs">एमाले</text><rect x="175.1" y="1635.2" width="20.4" height="71" fill="#00b050"/><text x="172" y="1619.6" class="num" lang="hi" style="font-size:20.7px;stroke:#000" textLength="37.1" lengthAdjust="spacingAndGlyphs">४८०</text><text x="171.2" y="1728.8" class="cat" style="font-size:12.6px;fill:#4a4a4a;stroke:#4a4a4a;stroke-width:.25px" textLength="27.7" lengthAdjust="spacingAndGlyphs">कांग्रेस</text><rect x="239.7" y="1676.7" width="20.4" height="29.5" fill="#ff0000"/><text x="235.4" y="1665.4" class="num" lang="hi" style="font-size:20.7px;stroke:#000" textLength="38.1" lengthAdjust="spacingAndGlyphs">१९९</text><text x="227.7" y="1728.8" class="cat" style="font-size:12.6px;fill:#4a4a4a;stroke:#4a4a4a;stroke-width:.25px" textLength="44.2" lengthAdjust="spacingAndGlyphs">माओवादी</text><rect x="304.4" y="1653.4" width="20.4" height="52.8" fill="#ffff00"/><text x="295.9" y="1647" class="num" lang="hi" style="font-size:20.7px;stroke:#000" textLength="39.6" lengthAdjust="spacingAndGlyphs">३५७</text><text x="300.9" y="1728.8" class="cat" style="font-size:12.6px;fill:#4a4a4a;stroke:#4a4a4a;stroke-width:.25px" textLength="27.2" lengthAdjust="spacingAndGlyphs">राप्रपा</text><rect x="369" y="1693.5" width="20.4" height="12.7" fill="#7030a0"/><text x="367.4" y="1685.3" class="num" lang="hi" style="font-size:20.7px;stroke:#000" textLength="23.8" lengthAdjust="spacingAndGlyphs">८६</text><text x="368.9" y="1728.8" class="cat" style="font-size:12.6px;fill:#4a4a4a;stroke:#4a4a4a;stroke-width:.25px" textLength="20.3" lengthAdjust="spacingAndGlyphs">अन्य</text><use href="#chk" x="121.4" y="1650.4" width="27.7" height="27.7"/></svg></section>
<section class="card" id="ward11"><svg style="left:441px;top:1521px" width="381" height="236" viewBox="441 1521 381 236"><rect x="485.4" y="1524.3" width="333.1" height="229.8" rx="24" fill="#fff" stroke="#00aeef" stroke-width="2.3"/><rect x="442.2" y="1592.2" width="45.5" height="110.2" rx="4.5" fill="#fff"/><rect x="443.4" y="1593.8" width="41.3" height="107" rx="3.6" fill="#ed1c24"/><g transform="translate(470 1648.5) rotate(-90)"><text x="-38.1" y="-0" class="tabt" style="font-size:18.7px;fill:#fff" textLength="78.3" lengthAdjust="spacingAndGlyphs">वडा नं. ११</text></g><rect x="496.3" y="1706.3" width="312.4" height="1" fill="#d9d9d9"/><rect x="517.3" y="1586.4" width="19.8" height="120.3" fill="#ffc000"/><text x="506" y="1570.7" class="num" lang="hi" style="font-size:20.7px;stroke:#000" textLength="50.9" lengthAdjust="spacingAndGlyphs">१४९३</text><text x="513.5" y="1729.3" class="cat" style="font-size:12.6px;fill:#4a4a4a;stroke:#4a4a4a;stroke-width:.25px" textLength="27.4" lengthAdjust="spacingAndGlyphs">एमाले</text><rect x="580" y="1608" width="19.8" height="98.7" fill="#00b050"/><text x="575.4" y="1595.7" class="num" lang="hi" style="font-size:20.7px;stroke:#000" textLength="49.3" lengthAdjust="spacingAndGlyphs">१२२५</text><text x="575.9" y="1729.3" class="cat" style="font-size:12.6px;fill:#4a4a4a;stroke:#4a4a4a;stroke-width:.25px" textLength="27.7" lengthAdjust="spacingAndGlyphs">कांग्रेस</text><rect x="642.7" y="1660.5" width="19.8" height="46.2" fill="#ff0000"/><text x="642.9" y="1647.2" class="num" lang="hi" style="font-size:20.7px;stroke:#000" textLength="41.6" lengthAdjust="spacingAndGlyphs">५७३</text><text x="630.4" y="1729.3" class="cat" style="font-size:12.6px;fill:#4a4a4a;stroke:#4a4a4a;stroke-width:.25px" textLength="44.2" lengthAdjust="spacingAndGlyphs">माओवादी</text><rect x="705.4" y="1701.1" width="19.8" height="5.6" fill="#ffff00"/><text x="709.3" y="1691.4" class="num" lang="hi" style="font-size:20.7px;stroke:#000" textLength="25.9" lengthAdjust="spacingAndGlyphs">६९</text><text x="701.6" y="1729.3" class="cat" style="font-size:12.6px;fill:#4a4a4a;stroke:#4a4a4a;stroke-width:.25px" textLength="27.2" lengthAdjust="spacingAndGlyphs">राप्रपा</text><rect x="768.1" y="1706.1" width="19.8" height="0.6" fill="#7030a0"/><text x="771.2" y="1699" class="num" lang="hi" style="font-size:20.7px;stroke:#000" textLength="15.6" lengthAdjust="spacingAndGlyphs">८</text><text x="754.3" y="1729.3" class="cat" style="font-size:12.6px;fill:#4a4a4a;stroke:#4a4a4a;stroke-width:.25px" textLength="47.1" lengthAdjust="spacingAndGlyphs">नयाँ शक्ति</text><use href="#chk" x="515.5" y="1650.4" width="27.7" height="27.7"/></svg></section>
<section class="card" id="ward12"><svg style="left:834px;top:1521px" width="381" height="236" viewBox="834 1521 381 236"><rect x="878.2" y="1524.3" width="333" height="229.8" rx="24" fill="#fff" stroke="#00aeef" stroke-width="2.3"/><rect x="835" y="1592.2" width="45.5" height="110.2" rx="4.5" fill="#fff"/><rect x="836.2" y="1593.8" width="41.3" height="107" rx="3.6" fill="#ed1c24"/><g transform="translate(862.8 1648.5) rotate(-90)"><text x="-38.1" y="-0" class="tabt" style="font-size:18.7px;fill:#fff" textLength="77.7" lengthAdjust="spacingAndGlyphs">वडा नं. १२</text></g><rect x="879.9" y="1706.3" width="324.8" height="1" fill="#d9d9d9"/><rect x="900" y="1598" width="20.6" height="108.7" fill="#ffc000"/><text x="893.1" y="1577.4" class="num" lang="hi" style="font-size:20.7px;stroke:#000" textLength="38.3" lengthAdjust="spacingAndGlyphs">९६९</text><text x="896.6" y="1729.3" class="cat" style="font-size:12.6px;fill:#4a4a4a;stroke:#4a4a4a;stroke-width:.25px" textLength="27.4" lengthAdjust="spacingAndGlyphs">एमाले</text><rect x="965.5" y="1595.3" width="20.6" height="111.4" fill="#00b050"/><text x="956.9" y="1586.3" class="num" lang="hi" style="font-size:20.7px;stroke:#000" textLength="37" lengthAdjust="spacingAndGlyphs">९९३</text><text x="961.8" y="1729.3" class="cat" style="font-size:12.6px;fill:#4a4a4a;stroke:#4a4a4a;stroke-width:.25px" textLength="27.7" lengthAdjust="spacingAndGlyphs">कांग्रेस</text><rect x="1030.9" y="1583" width="20.6" height="123.7" fill="#ff0000"/><text x="1013.8" y="1570.5" class="num" lang="hi" style="font-size:20.7px;stroke:#000" textLength="46.9" lengthAdjust="spacingAndGlyphs">११०३</text><text x="1019" y="1729.3" class="cat" style="font-size:12.6px;fill:#4a4a4a;stroke:#4a4a4a;stroke-width:.25px" textLength="44.2" lengthAdjust="spacingAndGlyphs">माओवादी</text><rect x="1096.3" y="1672.5" width="20.6" height="34.2" fill="#ffff00"/><text x="1081.7" y="1653.5" class="num" lang="hi" style="font-size:20.7px;stroke:#000" textLength="39.3" lengthAdjust="spacingAndGlyphs">३०५</text><text x="1093" y="1729.3" class="cat" style="font-size:12.6px;fill:#4a4a4a;stroke:#4a4a4a;stroke-width:.25px" textLength="27.2" lengthAdjust="spacingAndGlyphs">राप्रपा</text><rect x="1161.8" y="1688.9" width="20.6" height="17.8" fill="#7030a0"/><text x="1150.6" y="1678" class="num" lang="hi" style="font-size:20.7px;stroke:#000" textLength="38.9" lengthAdjust="spacingAndGlyphs">१५९</text><text x="1161.8" y="1729.3" class="cat" style="font-size:12.6px;fill:#4a4a4a;stroke:#4a4a4a;stroke-width:.25px" textLength="20.3" lengthAdjust="spacingAndGlyphs">अन्य</text><use href="#chk" x="1047.4" y="1604.6" width="27.7" height="27.7"/></svg></section>
<section class="card" id="ward13"><svg style="left:39px;top:1782px" width="382" height="236" viewBox="39 1782 382 236"><rect x="83.1" y="1785.3" width="334" height="229.8" rx="24" fill="#fff" stroke="#00aeef" stroke-width="2.3"/><rect x="39.9" y="1853.2" width="45.5" height="110.2" rx="4.5" fill="#fff"/><rect x="41.1" y="1854.8" width="41.3" height="107" rx="3.6" fill="#ed1c24"/><g transform="translate(67.7 1909.5) rotate(-90)"><text x="-38.1" y="-2" class="tabt" style="font-size:16.2px;fill:#fff" textLength="77.7" lengthAdjust="spacingAndGlyphs">वडा नं. १३</text></g><rect x="86.2" y="1969" width="321.5" height="1" fill="#d9d9d9"/><rect x="108.3" y="1843.8" width="20.4" height="125.6" fill="#ffc000"/><text x="105.4" y="1832.5" class="num" lang="hi" style="font-size:20.7px;stroke:#000" textLength="41.1" lengthAdjust="spacingAndGlyphs">८५५</text><text x="104.8" y="1992" class="cat" style="font-size:12.6px;fill:#4a4a4a;stroke:#4a4a4a;stroke-width:.25px" textLength="27.4" lengthAdjust="spacingAndGlyphs">एमाले</text><rect x="172.5" y="1845" width="20.4" height="124.4" fill="#00b050"/><text x="162.6" y="1836" class="num" lang="hi" style="font-size:20.7px;stroke:#000" textLength="39.6" lengthAdjust="spacingAndGlyphs">८४७</text><text x="168.7" y="1992" class="cat" style="font-size:12.6px;fill:#4a4a4a;stroke:#4a4a4a;stroke-width:.25px" textLength="27.7" lengthAdjust="spacingAndGlyphs">कांग्रेस</text><rect x="236.7" y="1880.4" width="20.4" height="89" fill="#ff0000"/><text x="227.3" y="1868.7" class="num" lang="hi" style="font-size:20.7px;stroke:#000" textLength="36.5" lengthAdjust="spacingAndGlyphs">६०६</text><text x="224.7" y="1992" class="cat" style="font-size:12.6px;fill:#4a4a4a;stroke:#4a4a4a;stroke-width:.25px" textLength="44.2" lengthAdjust="spacingAndGlyphs">माओवादी</text><rect x="300.9" y="1903" width="20.4" height="66.4" fill="#ffff00"/><text x="291.7" y="1894.5" class="num" lang="hi" style="font-size:20.7px;stroke:#000" textLength="39.1" lengthAdjust="spacingAndGlyphs">४५२</text><text x="297.5" y="1992" class="cat" style="font-size:12.6px;fill:#4a4a4a;stroke:#4a4a4a;stroke-width:.25px" textLength="27.2" lengthAdjust="spacingAndGlyphs">राप्रपा</text><rect x="365.1" y="1938" width="20.4" height="31.4" fill="#7030a0"/><text x="354.3" y="1931.2" class="num" lang="hi" style="font-size:20.7px;stroke:#000" textLength="35.5" lengthAdjust="spacingAndGlyphs">२१४</text><text x="365" y="1992" class="cat" style="font-size:12.6px;fill:#4a4a4a;stroke:#4a4a4a;stroke-width:.25px" textLength="20.3" lengthAdjust="spacingAndGlyphs">अन्य</text><use href="#chk" x="116.8" y="1882.4" width="27.7" height="27.7"/></svg></section>
<section class="card" id="ward14"><svg style="left:441px;top:1782px" width="381" height="236" viewBox="441 1782 381 236"><rect x="485.4" y="1785.3" width="333.1" height="229.8" rx="24" fill="#fff" stroke="#00aeef" stroke-width="2.3"/><rect x="442.2" y="1853.2" width="45.5" height="110.2" rx="4.5" fill="#fff"/><rect x="443.4" y="1854.8" width="41.3" height="107" rx="3.6" fill="#ed1c24"/><g transform="translate(470 1909.5) rotate(-90)"><text x="-38.1" y="-0" class="tabt" style="font-size:18.7px;fill:#fff" textLength="77.9" lengthAdjust="spacingAndGlyphs">वडा नं. १४</text></g><rect x="496.3" y="1965.7" width="310.1" height="1" fill="#d9d9d9"/><rect x="521.9" y="1893.8" width="24.4" height="72.3" fill="#ffc000"/><text x="520.1" y="1881.1" class="num" lang="hi" style="font-size:20.7px;stroke:#000" textLength="38.6" lengthAdjust="spacingAndGlyphs">६४१</text><text x="520.4" y="1987.4" class="cat" style="font-size:12.6px;fill:#4a4a4a;stroke:#4a4a4a;stroke-width:.25px" textLength="27.4" lengthAdjust="spacingAndGlyphs">एमाले</text><rect x="599.8" y="1918.4" width="24.4" height="47.7" fill="#00b050"/><text x="590.1" y="1907.1" class="num" lang="hi" style="font-size:20.7px;stroke:#000" textLength="36.8" lengthAdjust="spacingAndGlyphs">४२३</text><text x="598" y="1987.4" class="cat" style="font-size:12.6px;fill:#4a4a4a;stroke:#4a4a4a;stroke-width:.25px" textLength="27.7" lengthAdjust="spacingAndGlyphs">कांग्रेस</text><rect x="677.7" y="1830.5" width="24.4" height="135.6" fill="#ff0000"/><text x="670.4" y="1817.5" class="num" lang="hi" style="font-size:20.7px;stroke:#000" textLength="49.4" lengthAdjust="spacingAndGlyphs">१२०३</text><text x="667.7" y="1987.4" class="cat" style="font-size:12.6px;fill:#4a4a4a;stroke:#4a4a4a;stroke-width:.25px" textLength="44.2" lengthAdjust="spacingAndGlyphs">माओवादी</text><rect x="755.6" y="1959.1" width="24.4" height="7" fill="#ffff00"/><text x="754.5" y="1944.6" class="num" lang="hi" style="font-size:20.7px;stroke:#000" textLength="25.2" lengthAdjust="spacingAndGlyphs">६२</text><text x="754.2" y="1987.4" class="cat" style="font-size:12.6px;fill:#4a4a4a;stroke:#4a4a4a;stroke-width:.25px" textLength="27.2" lengthAdjust="spacingAndGlyphs">राप्रपा</text><use href="#chk" x="690.9" y="1867.5" width="27.7" height="27.7"/></svg></section>
<section class="card" id="ward15"><svg style="left:834px;top:1782px" width="381" height="236" viewBox="834 1782 381 236"><rect x="878.2" y="1785.3" width="333" height="229.8" rx="24" fill="#fff" stroke="#00aeef" stroke-width="2.3"/><rect x="835" y="1853.2" width="45.5" height="110.2" rx="4.5" fill="#fff"/><rect x="836.2" y="1854.8" width="41.3" height="107" rx="3.6" fill="#ed1c24"/><g transform="translate(862.8 1909.5) rotate(-90)"><text x="-38.1" y="-0" class="tabt" style="font-size:18.7px;fill:#fff" textLength="78" lengthAdjust="spacingAndGlyphs">वडा नं. १५</text></g><rect x="890.3" y="1969" width="309.5" height="1" fill="#d9d9d9"/><rect x="911.2" y="1866.3" width="19.7" height="103.1" fill="#ffc000"/><text x="898.6" y="1854.9" class="num" lang="hi" style="font-size:20.7px;stroke:#000" textLength="49.3" lengthAdjust="spacingAndGlyphs">१२८८</text><text x="907.4" y="1992" class="cat" style="font-size:12.6px;fill:#4a4a4a;stroke:#4a4a4a;stroke-width:.25px" textLength="27.4" lengthAdjust="spacingAndGlyphs">एमाले</text><rect x="973.3" y="1861.9" width="19.7" height="107.5" fill="#00b050"/><text x="962.2" y="1849.2" class="num" lang="hi" style="font-size:20.7px;stroke:#000" textLength="50" lengthAdjust="spacingAndGlyphs">१३४३</text><text x="969.2" y="1992" class="cat" style="font-size:12.6px;fill:#4a4a4a;stroke:#4a4a4a;stroke-width:.25px" textLength="27.7" lengthAdjust="spacingAndGlyphs">कांग्रेस</text><rect x="1035.4" y="1951.3" width="19.7" height="18.1" fill="#ff0000"/><text x="1026.3" y="1938" class="num" lang="hi" style="font-size:20.7px;stroke:#000" textLength="35.5" lengthAdjust="spacingAndGlyphs">२२६</text><text x="1023" y="1992" class="cat" style="font-size:12.6px;fill:#4a4a4a;stroke:#4a4a4a;stroke-width:.25px" textLength="44.2" lengthAdjust="spacingAndGlyphs">माओवादी</text><rect x="1097.5" y="1954.8" width="19.7" height="14.6" fill="#ffff00"/><text x="1090.5" y="1944.3" class="num" lang="hi" style="font-size:20.7px;stroke:#000" textLength="35.1" lengthAdjust="spacingAndGlyphs">१८२</text><text x="1093.7" y="1992" class="cat" style="font-size:12.6px;fill:#4a4a4a;stroke:#4a4a4a;stroke-width:.25px" textLength="27.2" lengthAdjust="spacingAndGlyphs">राप्रपा</text><rect x="1159.6" y="1967" width="19.7" height="2.4" fill="#7030a0"/><text x="1157.1" y="1956.5" class="num" lang="hi" style="font-size:20.7px;stroke:#000" textLength="26.2" lengthAdjust="spacingAndGlyphs">३०</text><text x="1145.8" y="1992" class="cat" style="font-size:12.6px;fill:#4a4a4a;stroke:#4a4a4a;stroke-width:.25px" textLength="47.1" lengthAdjust="spacingAndGlyphs">नयाँ शक्ति</text><use href="#chk" x="984.1" y="1882.4" width="27.7" height="27.7"/></svg></section>
<section class="card" id="ward16"><svg style="left:39px;top:2044px" width="382" height="236" viewBox="39 2044 382 236"><rect x="83.1" y="2047.3" width="334" height="229.8" rx="24" fill="#fff" stroke="#00aeef" stroke-width="2.3"/><rect x="39.9" y="2115.2" width="45.5" height="110.2" rx="4.5" fill="#fff"/><rect x="41.1" y="2116.8" width="41.3" height="107" rx="3.6" fill="#ed1c24"/><g transform="translate(67.7 2171.5) rotate(-90)"><text x="-38.1" y="-1.7" class="tabt" style="font-size:16.8px;fill:#fff" textLength="77.3" lengthAdjust="spacingAndGlyphs">वडा नं. १६</text></g><rect x="93.7" y="2230.1" width="314" height="1" fill="#d9d9d9"/><rect x="114.8" y="2112.8" width="19.8" height="117.7" fill="#ffc000"/><text x="108.3" y="2102.5" class="num" lang="hi" style="font-size:20.7px;stroke:#000" textLength="36.4" lengthAdjust="spacingAndGlyphs">८१९</text><text x="111" y="2253.1" class="cat" style="font-size:12.6px;fill:#4a4a4a;stroke:#4a4a4a;stroke-width:.25px" textLength="27.4" lengthAdjust="spacingAndGlyphs">एमाले</text><rect x="177.7" y="2108.8" width="19.8" height="121.7" fill="#00b050"/><text x="169.7" y="2097.9" class="num" lang="hi" style="font-size:20.7px;stroke:#000" textLength="39.7" lengthAdjust="spacingAndGlyphs">८४७</text><text x="173.6" y="2253.1" class="cat" style="font-size:12.6px;fill:#4a4a4a;stroke:#4a4a4a;stroke-width:.25px" textLength="27.7" lengthAdjust="spacingAndGlyphs">कांग्रेस</text><rect x="240.6" y="2147.7" width="19.8" height="82.8" fill="#ff0000"/><text x="232.8" y="2134.9" class="num" lang="hi" style="font-size:20.7px;stroke:#000" textLength="40" lengthAdjust="spacingAndGlyphs">५७६</text><text x="228.3" y="2253.1" class="cat" style="font-size:12.6px;fill:#4a4a4a;stroke:#4a4a4a;stroke-width:.25px" textLength="44.2" lengthAdjust="spacingAndGlyphs">माओवादी</text><rect x="303.5" y="2174.5" width="19.8" height="56" fill="#ffff00"/><text x="292.7" y="2166.1" class="num" lang="hi" style="font-size:20.7px;stroke:#000" textLength="37.3" lengthAdjust="spacingAndGlyphs">३९०</text><text x="299.8" y="2253.1" class="cat" style="font-size:12.6px;fill:#4a4a4a;stroke:#4a4a4a;stroke-width:.25px" textLength="27.2" lengthAdjust="spacingAndGlyphs">राप्रपा</text><rect x="366.4" y="2229.1" width="19.8" height="1.4" fill="#7030a0"/><text x="365.6" y="2214.2" class="num" lang="hi" style="font-size:20.7px;stroke:#000" textLength="23.9" lengthAdjust="spacingAndGlyphs">१०</text><text x="366.8" y="2253.1" class="cat" style="font-size:12.6px;fill:#4a4a4a;stroke:#4a4a4a;stroke-width:.25px" textLength="18.6" lengthAdjust="spacingAndGlyphs">माले</text><use href="#chk" x="180.4" y="2162.9" width="27.7" height="27.7"/></svg></section>
<section class="card" id="ward17"><svg style="left:441px;top:2044px" width="381" height="236" viewBox="441 2044 381 236"><rect x="485.4" y="2047.3" width="333.1" height="229.8" rx="24" fill="#fff" stroke="#00aeef" stroke-width="2.3"/><rect x="442.2" y="2115.2" width="45.5" height="110.2" rx="4.5" fill="#fff"/><rect x="443.4" y="2116.8" width="41.3" height="107" rx="3.6" fill="#ed1c24"/><g transform="translate(470 2171.5) rotate(-90)"><text x="-38.2" y="-0" class="tabt" style="font-size:18.7px;fill:#fff" textLength="77.9" lengthAdjust="spacingAndGlyphs">वडा नं. १७</text></g><rect x="493.7" y="2233.2" width="315.7" height="1" fill="#d9d9d9"/><rect x="515.5" y="2124.1" width="19.9" height="109.5" fill="#ffc000"/><text x="503.9" y="2104.5" class="num" lang="hi" style="font-size:20.7px;stroke:#000" textLength="43.9" lengthAdjust="spacingAndGlyphs">११८१</text><text x="511.8" y="2256.2" class="cat" style="font-size:12.6px;fill:#4a4a4a;stroke:#4a4a4a;stroke-width:.25px" textLength="27.4" lengthAdjust="spacingAndGlyphs">एमाले</text><rect x="578.6" y="2148.7" width="19.9" height="84.9" fill="#00b050"/><text x="578.5" y="2140.7" class="num" lang="hi" style="font-size:20.7px;stroke:#000" textLength="34.2" lengthAdjust="spacingAndGlyphs">९१६</text><text x="574.6" y="2256.2" class="cat" style="font-size:12.6px;fill:#4a4a4a;stroke:#4a4a4a;stroke-width:.25px" textLength="27.7" lengthAdjust="spacingAndGlyphs">कांग्रेस</text><rect x="641.8" y="2158.6" width="19.9" height="75" fill="#ff0000"/><text x="646.3" y="2149" class="num" lang="hi" style="font-size:20.7px;stroke:#000" textLength="37.3" lengthAdjust="spacingAndGlyphs">८०९</text><text x="629.5" y="2256.2" class="cat" style="font-size:12.6px;fill:#4a4a4a;stroke:#4a4a4a;stroke-width:.25px" textLength="44.2" lengthAdjust="spacingAndGlyphs">माओवादी</text><rect x="705" y="2191.2" width="19.9" height="42.4" fill="#ffff00"/><text x="696.2" y="2181.9" class="num" lang="hi" style="font-size:20.7px;stroke:#000" textLength="39.9" lengthAdjust="spacingAndGlyphs">४५७</text><text x="701.3" y="2256.2" class="cat" style="font-size:12.6px;fill:#4a4a4a;stroke:#4a4a4a;stroke-width:.25px" textLength="27.2" lengthAdjust="spacingAndGlyphs">राप्रपा</text><rect x="768.1" y="2232.4" width="19.9" height="1.2" fill="#7030a0"/><text x="764.6" y="2220.1" class="num" lang="hi" style="font-size:20.7px;stroke:#000" textLength="25.5" lengthAdjust="spacingAndGlyphs">१३</text><text x="767.7" y="2256.2" class="cat" style="font-size:12.6px;fill:#4a4a4a;stroke:#4a4a4a;stroke-width:.25px" textLength="20.3" lengthAdjust="spacingAndGlyphs">अन्य</text><use href="#chk" x="502.8" y="2175" width="27.7" height="27.7"/></svg></section>
<section class="card" id="ward18"><svg style="left:834px;top:2044px" width="381" height="236" viewBox="834 2044 381 236"><rect x="878.2" y="2047.3" width="333" height="229.8" rx="24" fill="#fff" stroke="#00aeef" stroke-width="2.3"/><rect x="835" y="2115.2" width="45.5" height="110.2" rx="4.5" fill="#fff"/><rect x="836.2" y="2116.8" width="41.3" height="107" rx="3.6" fill="#ed1c24"/><g transform="translate(862.8 2171.5) rotate(-90)"><text x="-38.1" y="-0" class="tabt" style="font-size:18.7px;fill:#fff" textLength="77.4" lengthAdjust="spacingAndGlyphs">वडा नं. १८</text></g><rect x="884.1" y="2234.8" width="320.6" height="1" fill="#d9d9d9"/><rect x="905.9" y="2118.9" width="20.3" height="116.3" fill="#ffc000"/><text x="898.4" y="2108.9" class="num" lang="hi" style="font-size:20.7px;stroke:#000" textLength="51.9" lengthAdjust="spacingAndGlyphs">१०५९</text><text x="902.3" y="2257.8" class="cat" style="font-size:12.6px;fill:#4a4a4a;stroke:#4a4a4a;stroke-width:.25px" textLength="27.4" lengthAdjust="spacingAndGlyphs">एमाले</text><rect x="970.1" y="2121.4" width="20.3" height="113.8" fill="#00b050"/><text x="962.3" y="2108.9" class="num" lang="hi" style="font-size:20.7px;stroke:#000" textLength="48.5" lengthAdjust="spacingAndGlyphs">१०३६</text><text x="966.2" y="2257.8" class="cat" style="font-size:12.6px;fill:#4a4a4a;stroke:#4a4a4a;stroke-width:.25px" textLength="27.7" lengthAdjust="spacingAndGlyphs">कांग्रेस</text><rect x="1034.3" y="2181.5" width="20.3" height="53.7" fill="#ff0000"/><text x="1027" y="2171.9" class="num" lang="hi" style="font-size:20.7px;stroke:#000" textLength="38.4" lengthAdjust="spacingAndGlyphs">४८९</text><text x="1022.2" y="2257.8" class="cat" style="font-size:12.6px;fill:#4a4a4a;stroke:#4a4a4a;stroke-width:.25px" textLength="44.2" lengthAdjust="spacingAndGlyphs">माओवादी</text><rect x="1098.5" y="2163.3" width="20.3" height="71.9" fill="#ffff00"/><text x="1090.8" y="2147.2" class="num" lang="hi" style="font-size:20.7px;stroke:#000" textLength="40.5" lengthAdjust="spacingAndGlyphs">६५५</text><text x="1095" y="2257.8" class="cat" style="font-size:12.6px;fill:#4a4a4a;stroke:#4a4a4a;stroke-width:.25px" textLength="27.2" lengthAdjust="spacingAndGlyphs">राप्रपा</text><text x="1163.9" y="2227.2" class="num" lang="hi" style="font-size:20.7px;stroke:#000" textLength="13.7" lengthAdjust="spacingAndGlyphs">३</text><text x="1162.5" y="2257.8" class="cat" style="font-size:12.6px;fill:#4a4a4a;stroke:#4a4a4a;stroke-width:.25px" textLength="20.3" lengthAdjust="spacingAndGlyphs">अन्य</text><use href="#chk" x="914.4" y="2172.8" width="27.7" height="27.7"/></svg></section>
<section class="card" id="ward19"><svg style="left:39px;top:2303px" width="382" height="235" viewBox="39 2303 382 235"><rect x="83.1" y="2305.6" width="334" height="229.8" rx="24" fill="#fff" stroke="#00aeef" stroke-width="2.3"/><rect x="39.9" y="2373.5" width="45.5" height="110.2" rx="4.5" fill="#fff"/><rect x="41.1" y="2375.1" width="41.3" height="107" rx="3.6" fill="#ed1c24"/><g transform="translate(67.7 2429.8) rotate(-90)"><text x="-38.1" y="-0" class="tabt" style="font-size:18.7px;fill:#fff" textLength="77.9" lengthAdjust="spacingAndGlyphs">वडा नं. १९</text></g><rect x="90.4" y="2490.7" width="315" height="1" fill="#d9d9d9"/><rect x="111.7" y="2370.7" width="19.9" height="120.4" fill="#ffc000"/><text x="106.6" y="2362.8" class="num" lang="hi" style="font-size:20.7px;stroke:#000" textLength="37.4" lengthAdjust="spacingAndGlyphs">८३६</text><text x="108" y="2513.7" class="cat" style="font-size:12.6px;fill:#4a4a4a;stroke:#4a4a4a;stroke-width:.25px" textLength="27.4" lengthAdjust="spacingAndGlyphs">एमाले</text><rect x="174.8" y="2383.1" width="19.9" height="108" fill="#00b050"/><text x="164.1" y="2376.3" class="num" lang="hi" style="font-size:20.7px;stroke:#000" textLength="39.5" lengthAdjust="spacingAndGlyphs">७५०</text><text x="170.7" y="2513.7" class="cat" style="font-size:12.6px;fill:#4a4a4a;stroke:#4a4a4a;stroke-width:.25px" textLength="27.7" lengthAdjust="spacingAndGlyphs">कांग्रेस</text><rect x="237.8" y="2480.9" width="19.9" height="10.2" fill="#ff0000"/><text x="236.3" y="2473.1" class="num" lang="hi" style="font-size:20.7px;stroke:#000" textLength="24.1" lengthAdjust="spacingAndGlyphs">७१</text><text x="225.6" y="2513.7" class="cat" style="font-size:12.6px;fill:#4a4a4a;stroke:#4a4a4a;stroke-width:.25px" textLength="44.2" lengthAdjust="spacingAndGlyphs">माओवादी</text><rect x="300.8" y="2441.6" width="19.9" height="49.5" fill="#ffff00"/><text x="289.9" y="2431.2" class="num" lang="hi" style="font-size:20.7px;stroke:#000" textLength="40.9" lengthAdjust="spacingAndGlyphs">३४४</text><text x="297.1" y="2513.7" class="cat" style="font-size:12.6px;fill:#4a4a4a;stroke:#4a4a4a;stroke-width:.25px" textLength="27.2" lengthAdjust="spacingAndGlyphs">राप्रपा</text><rect x="363.9" y="2381.6" width="19.9" height="109.5" fill="#7030a0"/><text x="355.8" y="2374.9" class="num" lang="hi" style="font-size:20.7px;stroke:#000" textLength="37.2" lengthAdjust="spacingAndGlyphs">७६०</text><text x="350.2" y="2513.7" class="cat" style="font-size:12.6px;fill:#4a4a4a;stroke:#4a4a4a;stroke-width:.25px" textLength="47.1" lengthAdjust="spacingAndGlyphs">नयाँ शक्ति</text><use href="#chk" x="124" y="2414.9" width="27.7" height="27.7"/></svg></section>
</main>
<div class="watermark" aria-hidden="true" style="mix-blend-mode:multiply"><svg style="left:0px;top:1040px" width="1256" height="420" viewBox="0 1040 1256 420"><g opacity="0.095"><use href="#kp" transform="translate(105.3 1386.7) rotate(-14) scale(0.685) translate(-148.5 -209.9)"/><use href="#kp" transform="translate(332.6 1326) rotate(-14) scale(0.685) translate(-148.5 -209.9)"/><use href="#kp" transform="translate(559.9 1265.3) rotate(-14) scale(0.685) translate(-148.5 -209.9)"/><use href="#kp" transform="translate(787.2 1204.6) rotate(-14) scale(0.685) translate(-148.5 -209.9)"/><use href="#kp" transform="translate(1014.5 1144) rotate(-14) scale(0.685) translate(-148.5 -209.9)"/></g></svg></div>
<div class="band bot"></div>
</body>
</html>
